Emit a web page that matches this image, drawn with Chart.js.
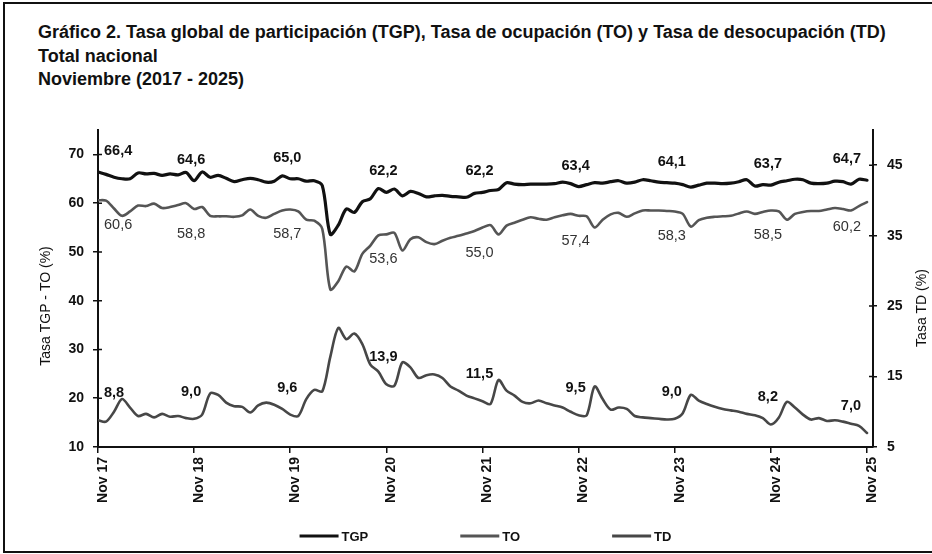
<!DOCTYPE html>
<html>
<head>
<meta charset="utf-8">
<script src="https://cdn.jsdelivr.net/npm/chart.js@4.4.1/dist/chart.umd.min.js"></script>
<style>
  html, body { margin: 0; padding: 0; background: #fff; }
  #wrap { position: relative; width: 932px; height: 554px; overflow: hidden; }
  #frame { position: absolute; left: 3px; top: 2px; width: 940px; height: 547px; border: 2px solid #111; border-right: none; }
  #title { position: absolute; left: 38px; top: 21px; font: bold 18px "Liberation Sans", Arial, sans-serif; line-height: 23.5px; color: #111; white-space: nowrap; }
  canvas { position: absolute; left: 0; top: 0; }
</style>
</head>
<body>
<div id="wrap">
  <div id="frame"></div>
  <div id="title">Gráfico 2. Tasa global de participación (TGP), Tasa de ocupación (TO) y Tasa de desocupación (TD)<br>Total nacional<br>Noviembre (2017 - 2025)</div>
  <canvas id="chart" width="932" height="554"></canvas>
</div>
<script>
// monthly series, Nov 2017 .. Nov 2025 (97 months)
const tickLabels = ['Nov 17', 'Nov 18', 'Nov 19', 'Nov 20', 'Nov 21', 'Nov 22', 'Nov 23', 'Nov 24', 'Nov 25'];
const leftTicks = [10, 20, 30, 40, 50, 60, 70];
const rightTicks = [5, 15, 25, 35, 45];

const tgp = [
  66.4, 65.9, 65.3, 65.0, 65.0, 66.2, 66.0, 66.1, 65.7, 66.0, 65.8, 66.3,
  64.6, 66.4, 65.3, 65.7, 65.1, 64.4, 64.8, 65.1, 64.8, 64.3, 64.5, 65.6,
  65.0, 65.0, 64.5, 64.6, 63.6, 53.6, 55.5, 58.8, 58.1, 60.3, 60.9, 63.0,
  62.2, 62.9, 61.5, 62.4, 62.0, 61.3, 61.5, 61.6, 61.4, 61.3, 61.2, 62.0,
  62.2, 62.6, 62.8, 64.2, 63.9, 63.8, 63.9, 63.9, 63.9, 64.0, 64.3, 64.0,
  63.4, 63.8, 64.2, 64.1, 64.4, 64.6, 64.1, 64.3, 64.8, 64.6, 64.3, 64.2,
  64.1, 63.8, 63.3, 63.7, 64.1, 64.1, 64.0, 64.1, 64.4, 64.8, 63.5, 63.8,
  63.7, 64.3, 64.6, 64.9, 64.8, 64.1, 64.0, 64.1, 64.5, 64.4, 63.9, 64.9,
  64.7
];
const to = [
  60.6, 60.5, 58.9, 57.4, 58.3, 59.5, 59.4, 59.9, 59.0, 59.2, 59.6, 60.0,
  58.8, 59.2, 57.4, 57.3, 57.3, 57.2, 57.5, 58.7, 57.4, 57.0, 57.8, 58.5,
  58.7, 58.3, 56.6, 56.4, 54.7, 42.3, 44.0, 47.0, 46.0, 49.6, 51.3, 53.4,
  53.6, 53.9, 50.3, 52.6, 53.0, 52.0, 51.6, 52.3, 52.9, 53.3, 53.8, 54.3,
  55.0, 55.5, 53.6, 55.4, 56.0, 56.6, 57.1, 56.8, 56.6, 57.1, 57.5, 57.8,
  57.4, 57.3, 55.0, 56.6, 57.7, 58.0, 57.2, 57.9, 58.5, 58.5, 58.5, 58.4,
  58.3, 57.8, 55.2, 56.5, 57.0, 57.2, 57.3, 57.4, 57.9, 58.3, 57.8, 58.2,
  58.5, 58.3, 56.6, 57.8, 58.2, 58.4, 58.4, 58.7, 59.0, 58.8, 58.5, 59.4,
  60.2
];
const td = [
  8.8, 8.6, 10.0, 11.8, 10.6, 9.4, 9.7, 9.2, 9.7, 9.3, 9.4, 9.1,
  9.0, 9.6, 12.6, 12.4, 11.3, 10.8, 10.7, 9.9, 10.9, 11.3, 11.0, 10.4,
  9.6, 9.4, 11.8, 13.1, 12.9, 17.8, 21.9, 20.3, 21.1, 19.6, 16.7, 15.7,
  13.9, 13.7, 17.0, 16.3, 14.8, 15.2, 15.3, 14.8, 13.6, 13.0, 12.3, 11.9,
  11.5, 11.1, 14.5, 13.0, 12.3, 11.4, 11.2, 11.6, 11.2, 10.9, 10.6, 10.0,
  9.5, 9.5, 13.6, 11.8, 10.3, 10.6, 10.4, 9.4, 9.2, 9.1, 9.0, 8.9,
  9.0, 9.8, 12.4, 11.6, 11.1, 10.7, 10.4, 10.2, 10.0, 9.7, 9.5, 9.1,
  8.2, 9.2, 11.4, 10.6, 9.6, 8.9, 9.1, 8.7, 8.8, 8.6, 8.3, 8.0,
  7.0
];

const FONT = '"Liberation Sans", Arial, sans-serif';
const pts = arr => arr.map((v, i) => ({ x: i, y: v }));
const labelIdx = tickLabels.map((_, k) => k * 12);

// draws the inner half of the tick marks, the value labels, axis titles and legend
const overlay = {
  id: 'overlay',
  afterDraw(chart) {
    const { ctx, chartArea: a, scales } = chart;
    ctx.save();
    ctx.strokeStyle = '#111';
    ctx.lineWidth = 1.5;
    ctx.beginPath();
    scales.y.ticks.forEach(t => {
      const py = scales.y.getPixelForValue(t.value);
      ctx.moveTo(a.left, py); ctx.lineTo(a.left + 4, py);
    });
    scales.y2.ticks.forEach(t => {
      const py = scales.y2.getPixelForValue(t.value);
      ctx.moveTo(a.right - 4, py); ctx.lineTo(a.right, py);
    });
    ctx.stroke();

    // value labels on each November
    ctx.textAlign = 'center';
    ctx.textBaseline = 'middle';
    chart.data.datasets.forEach((ds, di) => {
      const meta = chart.getDatasetMeta(di);
      ctx.font = ds.labelFont;
      ctx.fillStyle = ds.labelColor;
      labelIdx.forEach(i => {
        const p = meta.data[i];
        const txt = ds.data[i].y.toFixed(1).replace('.', ',');
        const w = ctx.measureText(txt).width;
        let cx = p.x - 3;
        cx = Math.max(cx, a.left + 6 + w / 2);
        cx = Math.min(cx, a.right - 12 - w / 2);
        ctx.fillText(txt, cx, p.y + ds.labelDy);
      });
    });

    // axis titles
    ctx.fillStyle = '#111';
    ctx.font = '14px ' + FONT;
    ctx.save();
    ctx.translate(46, 306);
    ctx.rotate(-Math.PI / 2);
    ctx.fillText('Tasa TGP - TO (%)', 0, 0);
    ctx.restore();
    ctx.save();
    ctx.translate(922, 308);
    ctx.rotate(-Math.PI / 2);
    ctx.fillText('Tasa TD (%)', 0, 0);
    ctx.restore();

    // legend
    ctx.font = 'bold 13px ' + FONT;
    ctx.textAlign = 'left';
    const lineLen = 39, gap = 3, space = 92, ly = 536;
    const items = chart.data.datasets.map(ds => ({ ds, w: lineLen + gap + ctx.measureText(ds.label).width }));
    const total = items.reduce((s, it) => s + it.w, 0) + space * (items.length - 1);
    let lx = (a.left + a.right) / 2 - total / 2;
    items.forEach(it => {
      ctx.strokeStyle = it.ds.borderColor;
      ctx.lineWidth = 3;
      ctx.beginPath();
      ctx.moveTo(lx, ly); ctx.lineTo(lx + lineLen, ly);
      ctx.stroke();
      ctx.fillStyle = '#111';
      ctx.fillText(it.ds.label, lx + lineLen + gap, ly + 1);
      lx += it.w + space;
    });
    ctx.restore();
  }
};

const axisFont = { family: FONT, size: 14, weight: 'bold' };
const gridOpts = { drawOnChartArea: false, color: '#111', lineWidth: 1.5 };

new Chart(document.getElementById('chart').getContext('2d'), {
  type: 'line',
  data: {
    datasets: [
      { label: 'TGP', data: pts(tgp), yAxisID: 'y', borderColor: '#111', borderWidth: 3.2,
        labelDy: -21, labelFont: 'bold 14.5px ' + FONT, labelColor: '#111' },
      { label: 'TO', data: pts(to), yAxisID: 'y', borderColor: '#555', borderWidth: 2.6,
        labelDy: 25, labelFont: '14.5px ' + FONT, labelColor: '#333' },
      { label: 'TD', data: pts(td), yAxisID: 'y2', borderColor: '#474747', borderWidth: 2.6,
        labelDy: -27, labelFont: 'bold 14.5px ' + FONT, labelColor: '#111' }
    ]
  },
  options: {
    responsive: false,
    animation: false,
    layout: { padding: { top: 130, left: 0, right: 0, bottom: 0 } },
    elements: {
      point: { radius: 0 },
      line: { tension: 0.3, borderCapStyle: 'round', borderJoinStyle: 'round' }
    },
    plugins: { legend: { display: false }, tooltip: { enabled: false }, title: { display: false } },
    scales: {
      x: {
        type: 'linear', min: 0, max: 96.75,
        afterFit: s => { s.height = 107; },
        afterBuildTicks: s => { s.ticks = labelIdx.map(v => ({ value: v })); },
        ticks: {
          autoSkip: false, minRotation: 90, maxRotation: 90, labelOffset: 5, padding: 4,
          color: '#111', font: axisFont,
          callback: v => tickLabels[Math.round(v / 12)]
        },
        grid: { ...gridOpts, tickLength: 6 },
        border: { color: '#111', width: 2 }
      },
      y: {
        position: 'left', min: 10, max: 75,
        afterFit: s => { s.width = 98; },
        afterBuildTicks: s => { s.ticks = leftTicks.map(v => ({ value: v })); },
        ticks: { padding: 9, color: '#111', font: axisFont },
        grid: { ...gridOpts, tickLength: 5 },
        border: { color: '#111', width: 2 }
      },
      y2: {
        position: 'right', min: 5, max: 50,
        afterFit: s => { s.width = 59; },
        afterBuildTicks: s => { s.ticks = rightTicks.map(v => ({ value: v })); },
        ticks: { padding: 10, color: '#111', font: axisFont },
        grid: { ...gridOpts, tickLength: 4 },
        border: { color: '#111', width: 2 }
      }
    }
  },
  plugins: [overlay]
});
</script>
</body>
</html>
